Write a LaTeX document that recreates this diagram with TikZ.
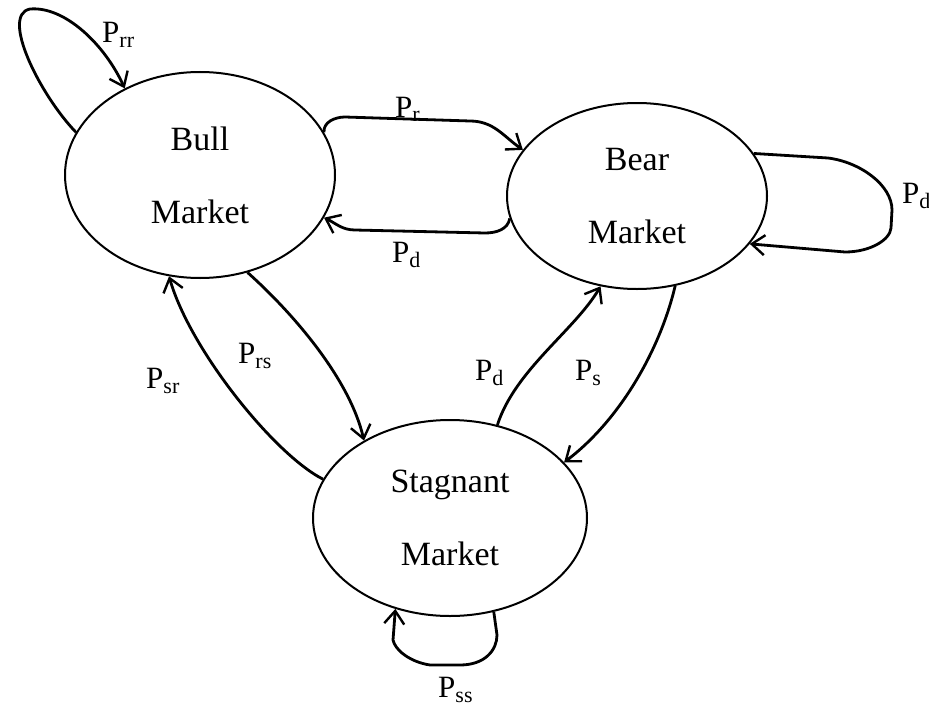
\documentclass[tikz,border=0pt]{standalone}
\usepackage{fontspec}
\setmainfont{Liberation Serif}
\usetikzlibrary{arrows.meta,shapes.geometric}
\newcommand{\Psub}[1]{P\raisebox{-5pt}{\fontsize{22}{22}\selectfont #1}}

\begin{document}
\begin{tikzpicture}[x=1pt,y=-1pt,state/.style={draw,ellipse,line width=2pt,inner sep=0pt,align=center,font=\fontsize{34}{73}\selectfont},arr/.style={-{Straight Barb[length=13pt,width=20pt,line width=2.4pt]},line width=2.8pt,line join=round},lbl/.style={anchor=base west,inner sep=0pt,font=\fontsize{31}{31}\selectfont}]
\useasboundingbox (0,0) rectangle (929,709);
\node[state,minimum width=270pt,minimum height=206pt] (bull) at (200,175) {Bull\\Market};
\node[state,minimum width=260pt,minimum height=186pt] (bear) at (637,196) {Bear\\Market};
\node[state,minimum width=274pt,minimum height=196pt] (stag) at (450,518) {Stagnant\\Market};
% loops on each market
\draw[arr](bull.161) .. controls (40,95) and (0,15) .. (30,9) .. controls (65,6) and (105,45) .. (bull.131);
\draw[arr](bear.20) -- (828,158) .. controls (860,162) and (892,185) .. (892,210) -- (891,228) .. controls (890,240) and (870,252) .. (845,252) -- (bear.-23);
\draw[arr](stag.-65) -- (497,635) .. controls (497,650) and (485,665) .. (460,665) -- (430,665) .. controls (410,662) and (395,650) .. (393,640) -- (stag.-121);
% transitions
\draw[arr](bull.19) to[out=95,in=180] (345,117) -- (470,121) to[out=0,in=145] (bear.158);
\draw[arr](bear.190) to[out=-100,in=0] (485,233) -- (355,230) to[out=180,in=-25] (bull.-19);
\draw[arr](bull.-64) .. controls (295,315) and (350,380) .. (stag.138);
\draw[arr](stag.163) .. controls (275,455) and (190,350) .. (bull.-107);
\draw[arr](stag.63) .. controls (515,370) and (575,330) .. (bear.-112);
\draw[arr](bear.-67) .. controls (660,350) and (620,420) .. (stag.26);
% labels
\node[lbl] (prr) at (102,43) {\Psub{rr}};
\node[lbl] (pr) at (395,117) {\Psub{r}};
\node[lbl] (pd1) at (392,262) {\Psub{d}};
\node[lbl] (pd2) at (902,203) {\Psub{d}};
\node[lbl] (prs) at (238,363) {\Psub{rs}};
\node[lbl] (psr) at (146,388) {\Psub{sr}};
\node[lbl] (pd3) at (475,380) {\Psub{d}};
\node[lbl] (ps) at (575,380) {\Psub{s}};
\node[lbl] (pss) at (438,697) {\Psub{ss}};
\end{tikzpicture}
\end{document}
